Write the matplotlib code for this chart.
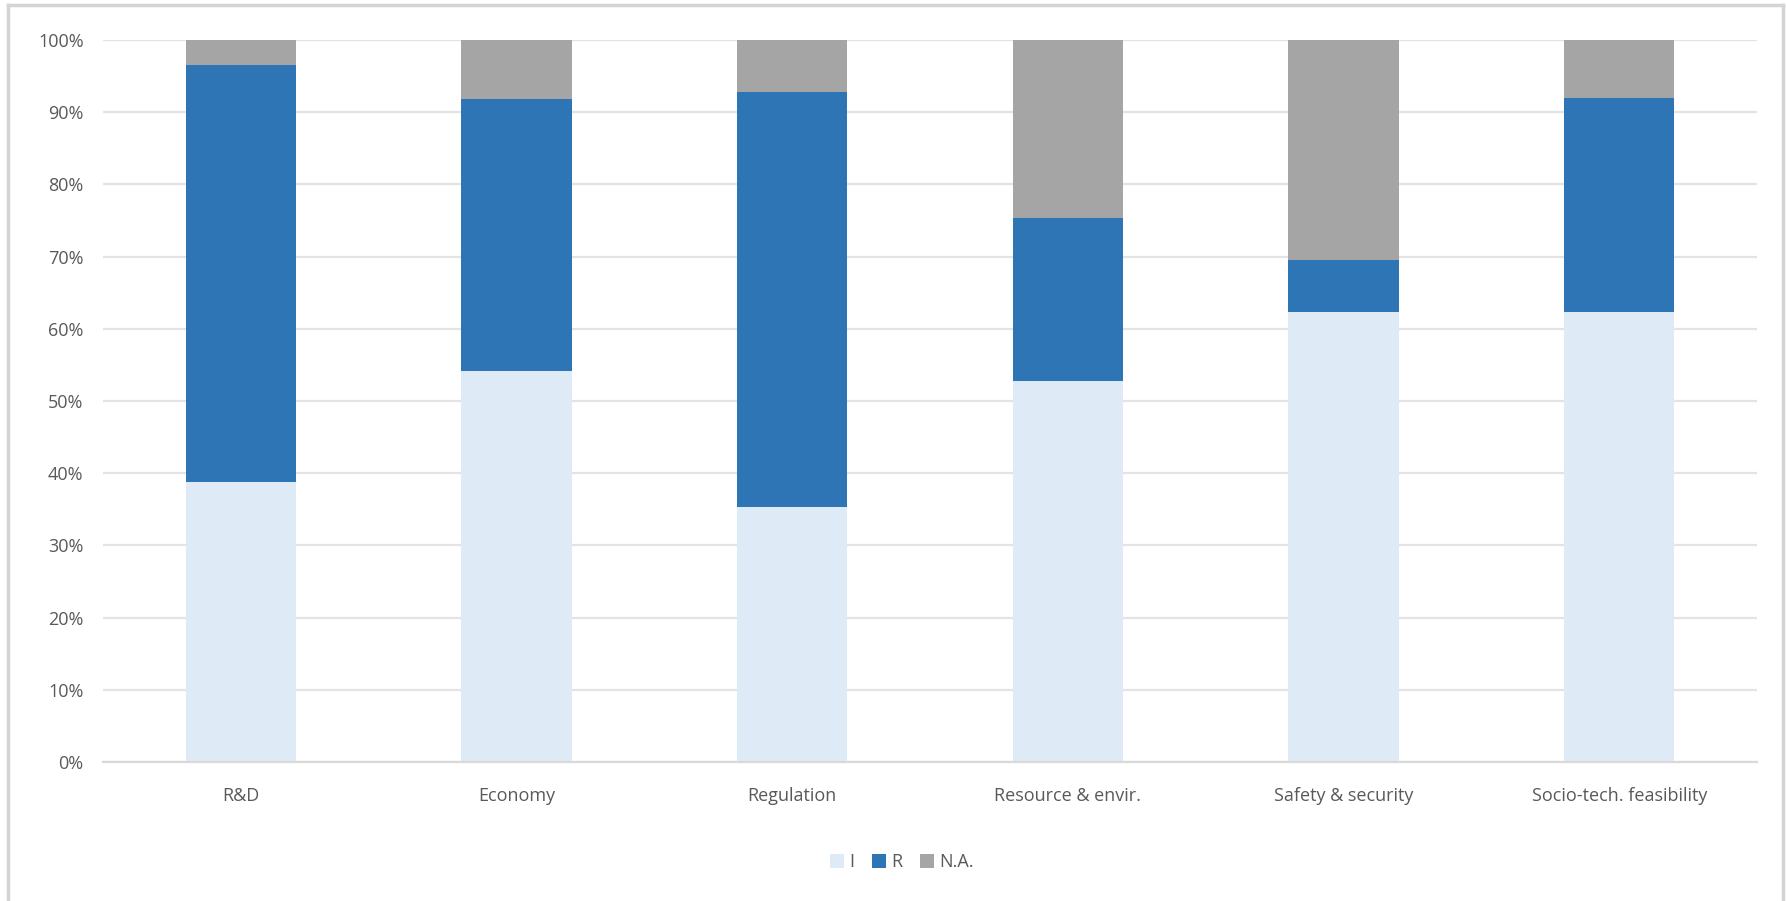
import matplotlib.pyplot as plt
from matplotlib.lines import Line2D
from matplotlib.patches import Patch
from matplotlib.ticker import PercentFormatter
import numpy as np

# data (percent of answers per category)
categories = ['R&D', 'Economy', 'Regulation', 'Resource & envir.',
              'Safety & security', 'Socio-tech. feasibility']
share_i = [38.8, 54.1, 35.3, 52.8, 62.3, 62.3]
share_r = [57.7, 37.7, 57.5, 22.5, 7.2, 29.6]
share_na = [3.5, 8.2, 7.2, 24.7, 30.5, 8.1]
series_labels = ['I', 'R', 'N.A.']

colors = ['#DEEAF6', '#2E75B6', '#A5A5A5']
text_color = '#595959'
plt.rcParams['font.family'] = ['Open Sans', 'DejaVu Sans']

fig = plt.figure(figsize=(17.86, 9.01), dpi=100)
ax = fig.add_axes([0.0577, 0.1543, 0.9261, 0.8013])

x = np.arange(len(categories))
width = 0.40
bottom = np.zeros(len(categories))
for vals, col, lab in zip([share_i, share_r, share_na], colors, series_labels):
    ax.bar(x, vals, width, bottom=bottom, color=col, label=lab, zorder=2)
    bottom += np.array(vals)

ax.set_xlim(-0.5, len(categories) - 0.5)
ax.set_ylim(0, 100)
ax.set_yticks(np.arange(0, 101, 10))
ax.yaxis.set_major_formatter(PercentFormatter(decimals=0))
ax.set_xticks(x)
ax.set_xticklabels(categories)

# gridlines
ax.grid(axis='y', color='#E3E3E3', linewidth=1.6, zorder=0)
ax.set_axisbelow(True)
for s in ['top', 'right', 'left']:
    ax.spines[s].set_visible(False)
ax.spines['bottom'].set_color('#D9D9D9')
ax.spines['bottom'].set_linewidth(1.6)
ax.tick_params(axis='both', length=0, labelsize=13, colors=text_color)
ax.tick_params(axis='y', pad=14)
ax.tick_params(axis='x', pad=18)

# legend below the plot
handles = [Patch(facecolor=c, edgecolor='none') for c in colors]
fig.legend(handles, series_labels, loc='center', bbox_to_anchor=(0.505, 0.043),
           ncol=3, frameon=False, fontsize=13, labelcolor=text_color,
           handlelength=0.75, handleheight=0.75, handletextpad=0.3,
           columnspacing=1.0)

# chart area border
for xs, ys in [([0.0045, 0.0045], [0.0, 0.9945]),
               ([0.0045, 0.9985], [0.9945, 0.9945]),
               ([0.9985, 0.9985], [0.0, 0.9945])]:
    fig.add_artist(Line2D(xs, ys, color='#D4D4D4', linewidth=2.5,
                          transform=fig.transFigure))

plt.savefig('out.png', dpi=100)
